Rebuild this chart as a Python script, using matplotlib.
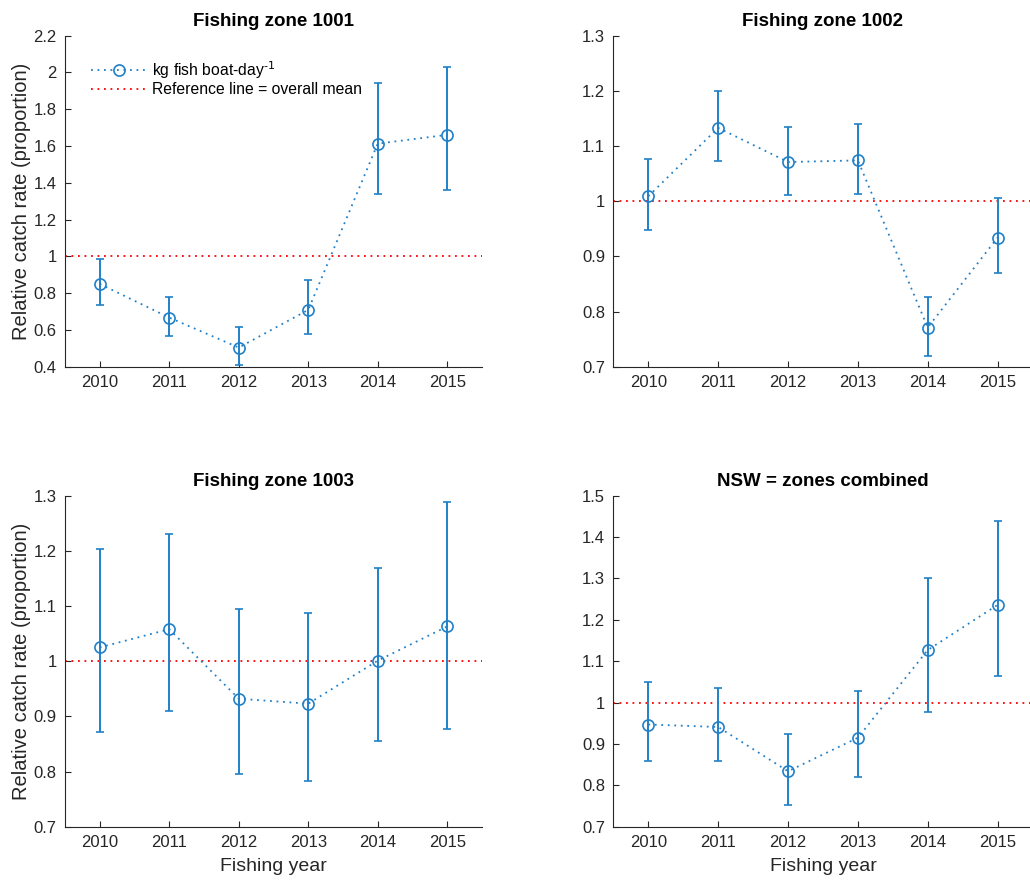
"""Relative catch rate by fishing zone, MATLAB-style 2x2 panels."""

import matplotlib
matplotlib.use("Agg")
import matplotlib.pyplot as plt
from matplotlib.lines import Line2D
from matplotlib.ticker import FormatStrFormatter, MultipleLocator
import numpy as np

years = [2010, 2011, 2012, 2013, 2014, 2015]

titles = ["Fishing zone 1001", "Fishing zone 1002", "Fishing zone 1003", "NSW = zones combined"]

z1001_mean = [0.85, 0.667, 0.504, 0.709, 1.613, 1.661]
z1001_low = [0.736, 0.569, 0.41, 0.578, 1.338, 1.359]
z1001_high = [0.984, 0.778, 0.617, 0.871, 1.943, 2.032]

z1002_mean = [1.009, 1.133, 1.071, 1.074, 0.771, 0.934]
z1002_low = [0.948, 1.072, 1.011, 1.013, 0.719, 0.870]
z1002_high = [1.077, 1.200, 1.135, 1.140, 0.826, 1.005]

z1003_mean = [1.025, 1.058, 0.932, 0.923, 1.001, 1.063]
z1003_low = [0.871, 0.910, 0.795, 0.783, 0.855, 0.877]
z1003_high = [1.204, 1.230, 1.094, 1.088, 1.169, 1.289]

nsw_mean = [0.947, 0.941, 0.834, 0.915, 1.127, 1.236]
nsw_low = [0.859, 0.859, 0.753, 0.821, 0.977, 1.065]
nsw_high = [1.050, 1.035, 0.924, 1.029, 1.300, 1.438]

ylims = [(0.4, 2.2), (0.7, 1.3), (0.7, 1.3), (0.7, 1.5)]
ysteps = [0.2, 0.1, 0.1, 0.1]

reference = 1.0

BLUE = "#2080C8"
AXCOL = "#262626"
DOTS = (0, (1, 2.6))

plt.rcParams["font.family"] = ["Liberation Sans", "DejaVu Sans"]

W, H = 1030, 881
fig = plt.figure(figsize=(W / 100, H / 100), dpi=100)

# pixel boxes: left, top, right, bottom
boxes = [(65, 35.7, 482, 366.7), (613.4, 35.7, 1032.5, 366.7),
         (65, 495.7, 482, 826.7), (613.4, 495.7, 1032.5, 826.7)]

series = [(z1001_mean, z1001_low, z1001_high),
          (z1002_mean, z1002_low, z1002_high),
          (z1003_mean, z1003_low, z1003_high),
          (nsw_mean, nsw_low, nsw_high)]

for i, (box, (mean, low, high)) in enumerate(zip(boxes, series)):
    l, t, r, b = box
    ax = fig.add_axes([l / W, (H - b) / H, (r - l) / W, (b - t) / H])
    mean = np.array(mean)
    yerr = [mean - np.array(low), np.array(high) - mean]
    ax.errorbar(years, mean, yerr=yerr, color=BLUE, linestyle=DOTS, linewidth=1.3,
                marker="o", markersize=8, markerfacecolor="none", markeredgewidth=1.2,
                capsize=3, elinewidth=1.4, capthick=1.2, zorder=3)
    ax.axhline(reference, color="red", linestyle=DOTS, linewidth=1.3, zorder=2)

    ax.set_xlim(2009.5, 2015.5)
    ax.set_ylim(*ylims[i])
    ax.set_xticks(years)
    ax.yaxis.set_major_locator(MultipleLocator(ysteps[i]))
    ax.yaxis.set_major_formatter(FormatStrFormatter("%g"))
    ax.tick_params(direction="in", length=4, width=0.8, colors=AXCOL,
                   labelsize=12, pad=6)
    for side in ("top", "right"):
        ax.spines[side].set_visible(False)
    for side in ("left", "bottom"):
        ax.spines[side].set_color(AXCOL)
        ax.spines[side].set_linewidth(0.8)
    ax.set_title(titles[i], fontsize=13.5, fontweight="bold", pad=7)

    if i % 2 == 0:
        ax.set_ylabel("Relative catch rate (proportion)", fontsize=14.5, color=AXCOL, labelpad=2)
    if i >= 2:
        ax.set_xlabel("Fishing year", fontsize=14, color=AXCOL, labelpad=6)
    if i == 0:
        handles = [
            Line2D([], [], color=BLUE, linestyle=DOTS, linewidth=1.3, marker="o",
                   markersize=8, markerfacecolor="none", markeredgewidth=1.2),
            Line2D([], [], color="red", linestyle=DOTS, linewidth=1.3),
        ]
        labels = ["kg fish boat-day$^{\\text{-1}}$", "Reference line = overall mean"]
        ax.legend(handles, labels, loc="upper left", bbox_to_anchor=(0.062, 0.93),
                  frameon=False, fontsize=11.3, handlelength=3.6, handletextpad=0.3,
                  labelspacing=0.1, borderaxespad=0.0, borderpad=0.0)

fig.savefig("out.png", dpi=100)
